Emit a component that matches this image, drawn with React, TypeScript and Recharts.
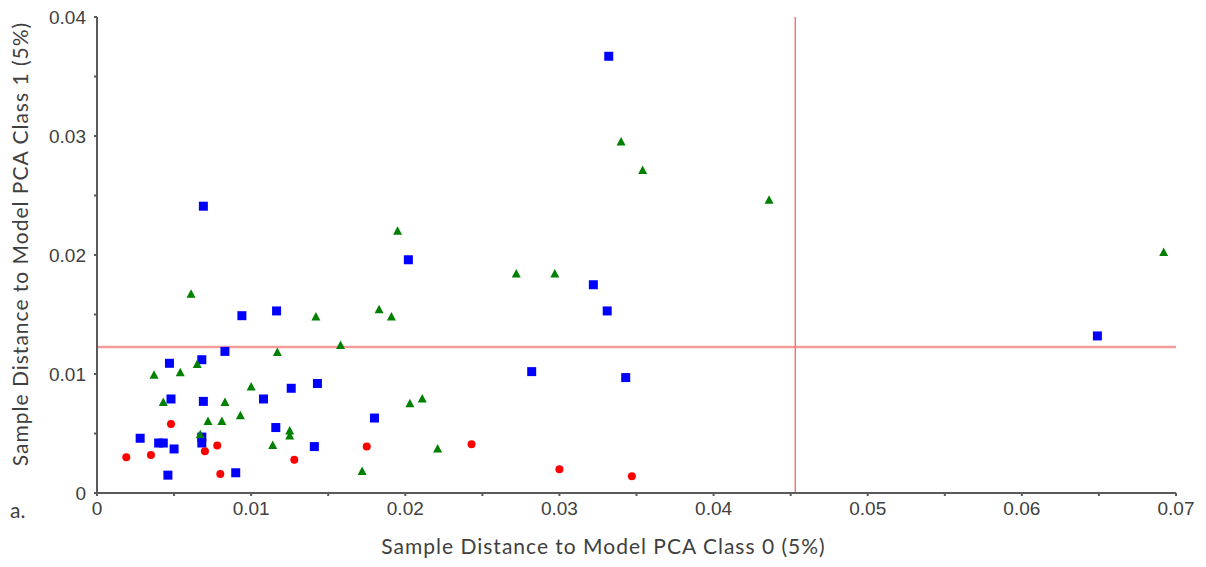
import React from "react";
import {
  ScatterChart,
  Scatter,
  XAxis,
  YAxis,
  ReferenceLine,
  Label,
} from "recharts";

// [distance to class 0, distance to class 1]
const blueSquares: [number, number][] = [
  [0.0069, 0.0241], [0.0094, 0.0149], [0.01165, 0.0153], [0.0083, 0.0119],
  [0.0068, 0.0112], [0.0047, 0.0109], [0.0048, 0.0079], [0.0069, 0.0077],
  [0.0108, 0.0079], [0.0126, 0.0088], [0.0143, 0.0092], [0.0116, 0.0055],
  [0.0028, 0.0046], [0.004, 0.0042], [0.0043, 0.0042], [0.005, 0.0037],
  [0.0068, 0.0047], [0.0068, 0.0042], [0.0141, 0.0039], [0.0046, 0.0015],
  [0.009, 0.0017], [0.0202, 0.0196], [0.0282, 0.0102], [0.018, 0.0063],
  [0.0332, 0.0367], [0.0322, 0.0175], [0.0331, 0.0153], [0.0343, 0.0097],
  [0.0649, 0.0132],
];

const greenTriangles: [number, number][] = [
  [0.0061, 0.0167], [0.0142, 0.0148], [0.0158, 0.0124], [0.0117, 0.0118],
  [0.0065, 0.0108], [0.0037, 0.0099], [0.0054, 0.0101], [0.01, 0.0089],
  [0.0043, 0.0076], [0.0083, 0.0076], [0.0093, 0.0065], [0.0072, 0.006],
  [0.0081, 0.006], [0.0067, 0.0049], [0.0125, 0.0052], [0.0125, 0.0048],
  [0.0114, 0.004], [0.0195, 0.022], [0.0272, 0.0184], [0.0297, 0.0184],
  [0.0183, 0.0154], [0.0191, 0.0148], [0.0203, 0.0075], [0.0211, 0.0079],
  [0.0221, 0.0037], [0.0172, 0.0018], [0.034, 0.0295], [0.0354, 0.0271],
  [0.0436, 0.0246], [0.0692, 0.0202],
];

const redCircles: [number, number][] = [
  [0.0048, 0.0058], [0.0019, 0.003], [0.0035, 0.0032], [0.007, 0.0035],
  [0.0078, 0.004], [0.008, 0.0016], [0.0128, 0.0028], [0.0175, 0.0039],
  [0.0243, 0.0041], [0.03, 0.002], [0.0347, 0.0014],
];

const xTicks = [0, 0.005, 0.01, 0.015, 0.02, 0.025, 0.03, 0.035, 0.04, 0.045, 0.05, 0.055, 0.06, 0.065, 0.07];
const yTicks = [0, 0.005, 0.01, 0.015, 0.02, 0.025, 0.03, 0.035, 0.04];

const limitClass0 = 0.0453;
const limitClass1 = 0.01226;

const toPoints = (pairs: [number, number][]) => pairs.map(([x, y]) => ({ x, y }));

const fmt = (v: number) => {
  const k = Math.round(v * 1000);
  if (k % 10 !== 0) return "";
  return k === 0 ? "0" : (k / 1000).toFixed(2);
};

const axisColor = "#5a5a5a";
const textColor = "#404040";
const tickFont = { fontFamily: "Liberation Sans", fontSize: 19, fill: textColor };
const titleStyle = { fontFamily: "Lato", fontSize: 21, letterSpacing: 1, fill: textColor };

const SquareMark = ({ cx, cy }: any) => (
  <rect x={cx - 4.5} y={cy - 4.5} width={9} height={9} fill="#0000ff" />
);
const TriangleMark = ({ cx, cy }: any) => (
  <polygon
    points={`${cx},${cy - 5} ${cx - 4.5},${cy + 3.5} ${cx + 4.5},${cy + 3.5}`}
    fill="#008000"
  />
);
const CircleMark = ({ cx, cy }: any) => <circle cx={cx} cy={cy} r={4} fill="#ff0000" />;

export default function App() {
  return (
    <div style={{ position: "relative", width: 1190, height: 559 }}>
      <ScatterChart width={1190} height={559} margin={{ top: 9, right: 22, bottom: 10, left: 0 }}>
        <XAxis
          type="number"
          dataKey="x"
          domain={[0, 0.07]}
          ticks={xTicks}
          tickFormatter={fmt}
          interval={0}
          height={64}
          stroke={axisColor}
          strokeWidth={2}
          tickSize={3}
          tickMargin={6}
          tick={tickFont}
          allowDataOverflow
        >
          <Label
            value="Sample Distance to Model PCA Class 0 (5%)"
            position="insideBottom"
            offset={3}
            dx={-33}
            style={titleStyle}
          />
        </XAxis>
        <YAxis
          type="number"
          dataKey="y"
          domain={[0, 0.04]}
          ticks={yTicks}
          tickFormatter={fmt}
          interval={0}
          width={89}
          stroke={axisColor}
          strokeWidth={2}
          tickSize={3}
          tickMargin={8}
          tick={tickFont}
          allowDataOverflow
        >
          <Label
            value="Sample Distance to Model PCA Class 1 (5%)"
            position="center"
            angle={-90}
            dx={-32}
            dy={-11}
            style={titleStyle}
          />
        </YAxis>
        <ReferenceLine y={limitClass1} stroke="#f59a9a" strokeWidth={2.5} />
        <ReferenceLine x={limitClass0} stroke="#f07878" strokeWidth={1.5} />
        <Scatter data={toPoints(blueSquares)} shape={SquareMark} isAnimationActive={false} />
        <Scatter data={toPoints(greenTriangles)} shape={TriangleMark} isAnimationActive={false} />
        <Scatter data={toPoints(redCircles)} shape={CircleMark} isAnimationActive={false} />
      </ScatterChart>
      <span
        style={{
          position: "absolute",
          left: 2,
          top: 489,
          fontFamily: "Lato",
          fontSize: 21,
          color: textColor,
        }}
      >
        a.
      </span>
    </div>
  );
}
